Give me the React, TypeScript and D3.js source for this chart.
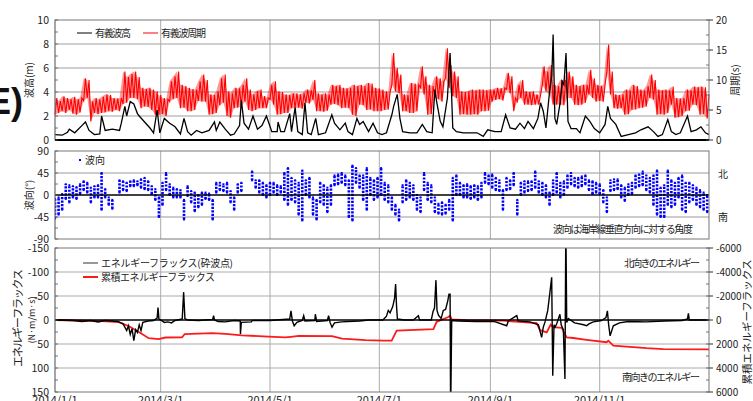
import React from 'react'
import * as d3 from 'd3'

const W = 753
const H = 401
const FONT = "'Noto Sans CJK JP', sans-serif"

// 有義波高 [day from 2014/1/1, m]
const waveHeight: [number, number][] = [
  [0, 0.45], [4, 0.4], [7, 0.65], [8, 0.9], [11, 0.6], [15, 1.2], [17, 1.5], [19, 0.8], [22, 0.45], [25, 0.5],
  [26, 2.0], [28, 0.8], [32, 0.9], [36, 0.8], [37, 1.4], [39, 2.8], [40, 2.0], [42, 3.2], [44, 3.0], [46, 2.2],
  [47, 2.0], [50, 1.5], [53, 1.0], [55, 0.6], [57, 2.5], [58.5, 0.6], [61, 1.8], [64, 1.4], [67, 1.1], [70, 0.5],
  [72, 1.8], [74, 0.7], [76, 0.4], [79, 0.8], [82, 0.6], [86, 0.8], [89, 1.5], [90, 0.8], [92, 1.5], [95, 0.9],
  [98, 0.4], [100, 0.5], [103, 1.2], [104, 3.3], [105.5, 1.4], [108, 0.9], [110.5, 2.0], [113, 0.9], [115.5, 1.2], [118, 2.0],
  [121, 0.7], [124, 0.7], [124.5, 1.5], [126, 0.7], [128, 0.7], [131, 2.2], [132, 0.7], [134, 2.7], [135.5, 0.7], [138, 0.45],
  [139.5, 3.1], [141, 0.6], [143, 0.45], [145.5, 1.8], [147, 0.45], [151, 0.6], [154.5, 2.1], [156, 1.4], [159, 0.85], [162, 1.4],
  [163.5, 0.7], [166, 0.45], [168.5, 1.8], [170, 1.3], [172, 1.55], [175, 0.7], [177.5, 1.4], [180, 0.6], [182.5, 0.45], [185, 0.6],
  [188, 2.1], [189, 2.8], [191, 3.8], [192.5, 1.8], [194, 0.7], [198, 0.6], [202, 0.6], [205, 1.3], [207.5, 0.7], [210.5, 0.6],
  [212, 4.2], [213, 3.2], [215, 1.55], [216.5, 1.1], [219, 3.5], [220.5, 7.25], [222, 1.0], [224, 0.7], [228, 0.6], [232, 0.6],
  [235.5, 0.6], [239, 0.3], [241.5, 0.85], [245.5, 0.7], [249, 0.7], [251.5, 2.1], [254, 1.0], [257, 0.9], [259.5, 1.4], [262, 0.95],
  [264, 1.55], [267, 0.95], [269.5, 1.8], [271, 3.1], [272.5, 2.4], [274, 1.0], [276, 4.0], [277.3, 5.4], [278, 8.8], [279, 1.8],
  [280, 1.3], [282, 3.2], [283, 4.9], [284, 4.6], [285.2, 7.25], [286.3, 1.55], [288, 0.95], [291, 0.95], [293, 0.6], [296, 2.0],
  [298.5, 1.55], [301, 0.95], [304, 0.6], [307, 1.3], [308.5, 2.8], [310, 1.8], [313, 1.3], [316, 0.3], [320, 0.45], [324, 0.6],
  [327, 0.85], [331, 1.1], [334, 0.7], [336.5, 0.3], [339, 0.45], [342, 1.7], [344, 0.7], [346.5, 0.45], [349, 0.6], [353, 2.0],
  [355, 0.7], [358, 0.85], [360.5, 1.1], [363, 0.6], [365, 0.45],
]

// 有義波周期: lower / upper edge of the band, one pair every 2 days (s)
const periodLow = [
  4.2, 4.5, 4.8, 4.5, 5.0, 4.4, 4.2, 4.6, 6.5, 7.0, 3.1, 4.5, 4.3, 4.5, 4.6, 4.8, 4.7, 5.0, 4.8, 6.0,
  6.2, 7.0, 7.0, 6.8, 5.3, 5.6, 5.5, 5.0, 4.2, 4.2, 4.3, 4.0, 6.4, 6.8, 7.0, 5.3, 5.4, 4.8, 4.8, 5.0,
  6.5, 6.4, 6.4, 4.2, 4.3, 4.5, 5.8, 6.2, 4.0, 3.7, 5.3, 5.4, 5.6, 6.4, 5.0, 4.8, 5.0, 5.3, 5.3, 5.3,
  6.8, 5.9, 4.2, 4.3, 4.5, 4.5, 5.3, 5.3, 5.4, 5.2, 6.2, 6.1, 6.7, 4.8, 4.8, 4.7, 4.9, 5.9, 6.0, 5.8,
  5.3, 5.4, 5.3, 4.2, 4.0, 5.9, 5.8, 5.0, 5.1, 4.8, 4.8, 4.8, 5.0, 5.1, 9.2, 8.1, 7.8, 4.8, 4.8, 4.5,
  4.5, 4.8, 8.7, 7.6, 4.2, 4.3, 7.0, 6.8, 6.4, 10.3, 8.7, 7.3, 7.0, 4.2, 4.3, 4.2, 4.2, 4.3, 4.2, 4.8,
  4.8, 4.9, 6.4, 6.7, 6.8, 6.6, 8.4, 7.8, 4.8, 6.4, 7.0, 5.9, 5.9, 5.8, 5.9, 5.9, 9.2, 8.1, 7.6, 5.9,
  5.9, 5.9, 5.8, 7.0, 7.0, 5.9, 5.8, 5.9, 6.2, 7.6, 7.0, 6.4, 6.5, 6.4, 11.4, 7.6, 5.3, 5.2, 5.3, 4.2,
  4.3, 5.0, 5.1, 5.3, 5.4, 5.6, 7.0, 6.7, 4.2, 4.3, 4.2, 4.5, 5.9, 3.7, 3.8, 4.0, 4.8, 4.9, 5.9, 5.8,
  4.2, 4.3, 3.6,
]
const periodHigh = [
  7.0, 6.5, 7.3, 7.0, 6.8, 7.2, 6.8, 7.0, 10.3, 10.0, 6.4, 7.0, 6.8, 7.2, 7.6, 7.5, 7.0, 6.9, 7.0, 11.4,
  10.5, 11.0, 11.4, 10.5, 8.7, 8.5, 8.7, 8.4, 8.1, 7.5, 7.0, 6.8, 9.8, 10.6, 11.4, 9.2, 9.0, 8.7, 8.5, 8.4,
  9.8, 10.9, 10.0, 7.6, 7.5, 8.1, 10.3, 10.9, 8.1, 7.8, 8.7, 8.6, 9.2, 10.3, 8.4, 7.6, 8.1, 8.4, 7.3, 7.0,
  9.2, 9.8, 8.1, 8.0, 7.6, 7.5, 7.8, 7.8, 7.6, 7.8, 8.4, 8.3, 10.0, 7.8, 7.6, 7.8, 7.6, 9.2, 9.0, 9.2,
  8.7, 8.6, 8.7, 9.2, 9.0, 9.2, 9.0, 9.5, 9.4, 8.7, 8.6, 8.4, 8.1, 8.0, 14.5, 12.0, 10.9, 7.6, 7.5, 9.5,
  9.4, 9.2, 12.3, 10.6, 9.2, 9.0, 10.6, 10.3, 9.8, 15.3, 12.5, 11.4, 10.6, 8.1, 8.0, 8.1, 8.4, 8.3, 8.4, 8.4,
  8.3, 8.4, 8.4, 8.7, 8.6, 8.7, 11.2, 10.6, 7.0, 9.2, 10.0, 8.1, 8.0, 8.1, 7.6, 7.5, 12.3, 11.4, 12.5, 9.2,
  9.0, 10.0, 10.0, 11.4, 10.6, 9.2, 9.0, 9.2, 9.2, 11.7, 10.3, 9.2, 9.0, 9.2, 15.9, 11.4, 7.6, 7.5, 7.6, 8.4,
  8.3, 9.2, 9.0, 8.4, 8.3, 9.0, 10.9, 10.0, 8.4, 8.3, 8.4, 8.3, 8.9, 7.0, 6.9, 7.0, 8.4, 8.3, 8.9, 8.8,
  8.9, 8.8, 7.6,
]

// 波向: lower / upper edge of the point cloud, every 2 days (deg), null = no data
const dirLow: (number | null)[] = [
  -48, -40, -30, -8, -15, -5, -8, 2, 10, 5, -15, -5, -5, -30, -5, -20, -28, null, 5, 10,
  8, 18, 18, 20, 15, 12, 10, 2, -10, -45, -20, 10, 0, -5, -5, -5, -50, -2, -15, -33,
  -25, -20, -8, -10, -50, 5, 10, 8, 5, -15, -30, 5, 8, null, null, 30, 15, 5, 0, -5,
  0, 5, 0, 5, -10, -20, -10, -15, -40, -52, 0, -5, -40, -50, -15, -20, -35, -20, 20, 22,
  25, 20, -45, -52, 25, 15, -10, -30, 0, -10, -5, 0, -10, -15, -30, -40, -52, -15, -10, -5,
  -10, -30, -35, 10, -10, -15, -35, -38, -40, -38, -30, -52, 0, 0, -5, -5, -8, -5, -10, -5,
  25, 22, 15, 10, 8, -30, 10, 12, 20, -40, 0, 5, 8, 10, 15, 5, 0, -5, -20, 0,
  5, -5, 0, 15, 22, 18, 15, 18, 22, 10, 2, 5, 2, -15, -35, 8, 10, 12, -5, -12,
  0, 2, 15, 18, 20, 10, 5, -20, -40, -45, -45, -20, -25, -20, -5, -30, -35, -15, -10, -20,
  -25, -30, -35,
]
const dirHigh: (number | null)[] = [
  -8, -5, 2, 22, 20, 18, 16, 22, 28, 25, 15, 18, 20, 45, 12, -5, -10, null, 30, 28,
  25, 28, 30, 28, 32, 35, 28, 18, 12, -5, 25, 45, 22, 15, 12, 10, -10, 18, 8, 5,
  0, 5, 5, 3, -10, 25, 25, 22, 25, 8, -5, 22, 25, null, null, 48, 30, 30, 25, 20,
  25, 25, 20, 18, 45, 55, 35, 30, 25, 50, 30, 35, -5, -10, 25, 20, 15, 20, 40, 42,
  45, 40, 30, 60, 55, 40, 40, 55, 35, 30, 35, 55, 25, 20, -5, -20, -30, 20, 30, 25,
  20, 0, -5, 45, 25, 20, -5, -18, -15, -20, -10, 35, 40, 25, 20, 22, 18, 20, 18, 25,
  45, 40, 42, 35, 30, 10, 35, 30, 45, -10, 25, 28, 28, 28, 48, 28, 25, 20, 5, 30,
  45, 25, 28, 40, 45, 35, 35, 38, 40, 30, 28, 25, 22, 10, -5, 30, 32, 32, 20, 15,
  22, 25, 40, 42, 48, 40, 35, 40, 50, 15, 20, 50, 30, 25, 35, 40, 25, 25, 20, 15,
  10, 5, 0,
]

// エネルギーフラックス(砕波点) [day, N·m/m·s] (negative = northward)
const flux: [number, number][] = [
  [0, 0], [10, 1], [15, 3], [20, 1], [24, 4], [28, 1], [35, 3], [38, 8], [40, 22], [41, 12],
  [42, 30], [43, 18], [44, 43], [45, 20], [46, 26], [47, 10], [48, 22], [49, 5], [52, 2], [55, 1],
  [57, -4], [57.5, -26], [58, -2], [59, 0], [61, 5], [63, 4], [65, 6], [67, 1], [71, -2], [71.8, -58],
  [72.5, -3], [74, 0], [80, 1], [88, -1], [88.5, -9], [89, 0], [91, 3], [95, 4], [100, 1], [103.4, 2],
  [103.5, 29], [104, 5], [109.6, 4], [110, 1], [120, 1], [131, -2], [131.7, -19], [132.5, 2], [133.5, 12], [135, 5],
  [138, 1], [138.8, -9], [139.5, 2], [145, 1], [145.3, -12], [146, 3], [152, 1], [152.7, -9], [153.5, 5], [154.6, 15],
  [156, 6], [160, 4], [170, 2], [175, 0], [183, 0], [185, -8], [186, -20], [187, -15], [188.5, -28], [189.5, -45],
  [190.1, -75], [190.6, -30], [191.1, -2], [195, 0], [200, 0], [202.8, -9], [203.5, 0], [210, 0], [211, -18], [211.8, -25],
  [212.6, -83], [213.2, -20], [214, -10], [215.5, -3], [216.7, -20], [218, -22], [219.2, -40], [219.9, -54], [220.5, -54], [220.8, 200],
  [221.4, 1], [225, 2], [235, 3], [245, 3], [252.1, 12], [253, 2], [257.7, -9], [258.5, 2], [265, 4], [269.8, 10],
  [271, 28], [271.6, 36], [272.5, 15], [273.5, 4], [275, -20], [276.3, -60], [277.2, -89], [277.8, 116], [278.5, 10], [279.1, 15],
  [280, 8], [281.8, -12], [282.5, 10], [283.7, 20], [284.6, 123], [285.1, -200], [285.6, 5], [286.5, -3], [290, 6], [295, 10],
  [296.7, 12], [298, 8], [300.4, 4], [305, 1], [307.5, -5], [308.3, -19], [309, 10], [309.8, 33], [311.6, 12], [315, 6],
  [320, 3], [330, 4], [340, 2], [350, 1], [353, -2], [353.5, -14], [354, 0], [360, 0], [365, 0],
]

// 累積エネルギーフラックス [day, value]
const fluxCum: [number, number][] = [
  [0, 0], [26.2, 100], [35.5, 170], [41.1, 500], [43.9, 750], [46.7, 1000], [49.5, 1250], [52.3, 1520], [57.9, 1600], [61.6, 1460],
  [70.9, 1450], [72.4, 1170], [87.6, 1100], [95.1, 1150], [104.4, 1280], [119.2, 1380], [128.5, 1450], [131.7, 1400], [136, 1320], [154.6, 1340],
  [160.2, 1550], [173.2, 1680], [183.4, 1720], [187.9, 1720], [190.7, 890], [211.2, 760], [213, 150], [219.5, -250], [220.5, -360], [221.4, -50],
  [229.8, 20], [250.2, 60], [268.8, 250], [270.7, 850], [274.4, 1030], [276.6, 400], [278.1, 600], [282.8, 650], [284.1, 1030], [285.6, 1450],
  [289.3, 1500], [296.7, 1650], [307.9, 1850], [308.8, 1720], [311.6, 2140], [330.2, 2350], [339.5, 2420], [365, 2440],
]

const heightTicks = [0, 2, 4, 6, 8, 10]
const periodTicks = [0, 5, 10, 15, 20]
const dirTicks = [-90, -45, 0, 45, 90]
const fluxTicks = [-150, -100, -50, 0, 50, 100, 150]
const cumTicks = [-6000, -4000, -2000, 0, 2000, 4000, 6000]
const dateTicks = ['2014/1/1', '2014/3/1', '2014/5/1', '2014/7/1', '2014/9/1', '2014/11/1']

const L = 55
const R = 709
const P1 = { top: 20, bottom: 140 }
const P2 = { top: 151, bottom: 239 }
const P3 = { top: 248, bottom: 392 }

const fmt = (v: number) => (v < 0 ? '-' + Math.abs(v) : String(v))
const dayOf = (s: string) => {
  const [y, m, d] = s.split('/').map(Number)
  return d3.timeDay.count(new Date(2014, 0, 1), new Date(y, m - 1, d))
}

export default function App() {
  const x = d3.scaleLinear().domain([0, 365]).range([L, R])
  const yH = d3.scaleLinear().domain([0, 10]).range([P1.bottom, P1.top])
  const yT = d3.scaleLinear().domain([0, 20]).range([P1.bottom, P1.top])
  const yD = d3.scaleLinear().domain([-90, 90]).range([P2.bottom, P2.top])
  const yF = d3.scaleLinear().domain([-150, 150]).range([P3.top, P3.bottom])
  const yC = d3.scaleLinear().domain([-6000, 6000]).range([P3.top, P3.bottom])

  const periodPts: [number, number][] = periodLow.flatMap((lo, i) => [
    [2 * i, lo] as [number, number],
    [Math.min(2 * i + 1, 365), periodHigh[i]] as [number, number],
  ])
  const periodBand = d3
    .area<number>()
    .x((_, i) => x(2 * i))
    .y0(d => yT(d))
    .y1((_, i) => yT(periodHigh[i]))

  const line = (ys: d3.ScaleLinear<number, number>) =>
    d3.line<[number, number]>().x(d => x(d[0])).y(d => ys(d[1]))

  const vGrid = dateTicks.map(dayOf)

  // left axis ticks and labels, with minor ticks inside
  const leftAxis = (ticks: number[], ys: d3.ScaleLinear<number, number>, minor: number) => {
    const [a, b] = ys.domain()
    const minors = d3.range(Math.min(a, b), Math.max(a, b) + 0.001, minor)
    return (
      <g>
        {minors.map((v, i) => (
          <line key={'m' + i} x1={L} x2={L + 3} y1={ys(v)} y2={ys(v)} stroke="#555" strokeWidth={0.8} />
        ))}
        {ticks.map(v => (
          <text key={v} x={49} y={ys(v) + 4} textAnchor="end" fontSize={10.5} fill="#222">{fmt(v)}</text>
        ))}
      </g>
    )
  }
  const rightAxis = (ticks: number[], ys: d3.ScaleLinear<number, number>, minor: number) => {
    const [a, b] = ys.domain()
    const minors = d3.range(Math.min(a, b), Math.max(a, b) + 0.001, minor)
    return (
      <g>
        {minors.map((v, i) => (
          <line key={'m' + i} x1={R - 3} x2={R} y1={ys(v)} y2={ys(v)} stroke="#555" strokeWidth={0.8} />
        ))}
        {ticks.map(v => (
          <g key={v}>
            <line x1={R} x2={R + 4} y1={ys(v)} y2={ys(v)} stroke="#333" />
            <text x={716} y={ys(v) + 4} fontSize={10} fill="#222">{fmt(v)}</text>
          </g>
        ))}
      </g>
    )
  }

  const frame = (p: { top: number; bottom: number }) => (
    <rect x={L} y={p.top} width={R - L} height={p.bottom - p.top} fill="none" stroke="#777" strokeWidth={1} />
  )
  const vLines = (p: { top: number; bottom: number }) =>
    vGrid.map(d => <line key={d} x1={x(d)} x2={x(d)} y1={p.top} y2={p.bottom} stroke="#aaa" strokeWidth={1} />)

  return (
    <svg width={W} height={H} style={{ position: 'absolute', left: 0, top: 0, background: '#fff' }} fontFamily={FONT}>
      <defs>
        <clipPath id="c3"><rect x={L} y={P3.top} width={R - L} height={P3.bottom - P3.top} /></clipPath>
        <clipPath id="c2"><rect x={L} y={P2.top} width={R - L} height={P2.bottom - P2.top} /></clipPath>
      </defs>
      <text x={-13} y={114} fontSize={36} fontWeight="bold" fontFamily="'Liberation Sans', Arial, sans-serif" fill="#111">E)</text>

      {/* panel 1: wave height / period */}
      {heightTicks.slice(1, -1).map(v => (
        <line key={v} x1={L} x2={R} y1={yH(v)} y2={yH(v)} stroke="#cfcfcf" strokeWidth={2} />
      ))}
      {vLines(P1)}
      <path d={periodBand(periodLow) || ''} fill="#ff0000" fillOpacity={0.4} stroke="none" />
      <path d={line(yT)(periodPts) || ''} fill="none" stroke="#ff0000" strokeWidth={1.1} />
      <path d={line(yH)(waveHeight) || ''} fill="none" stroke="#000" strokeWidth={1.3} />
      {frame(P1)}
      <line x1={L} x2={R} y1={P1.bottom} y2={P1.bottom} stroke="#000" strokeWidth={2} />
      {leftAxis(heightTicks, yH, 1)}
      {rightAxis(periodTicks, yT, 2.5)}
      <line x1={77} x2={92} y1={33} y2={33} stroke="#000" />
      <text x={95} y={37} fontSize={10} fill="#222" textLength={36}>有義波高</text>
      <line x1={143} x2={158} y1={33} y2={33} stroke="#ff0000" />
      <text x={161} y={37} fontSize={10} fill="#222" textLength={45}>有義波周期</text>
      <text transform={`translate(33,${(P1.top + P1.bottom) / 2}) rotate(-90)`} textAnchor="middle" fontSize={10} fill="#222">波高(m)</text>
      <text transform={`translate(739,${(P1.top + P1.bottom) / 2}) rotate(-90)`} textAnchor="middle" fontSize={10} fill="#222">周期(s)</text>

      {/* panel 2: wave direction */}
      {[45, -45].map(v => (
        <line key={v} x1={L} x2={R} y1={yD(v)} y2={yD(v)} stroke="#999" strokeWidth={1} />
      ))}
      {vLines(P2)}
      <g clipPath="url(#c2)">
        {dirLow.map((lo, i) => {
          const hi = dirHigh[i]
          if (lo == null || hi == null) return null
          const cx = x(2 * i)
          return (
            <g key={i}>
              <line x1={cx} x2={cx} y1={yD(lo)} y2={yD(hi)} stroke="#0000ff" strokeWidth={2.6} strokeDasharray="2.2 1.3" />
              <rect x={cx - 1} y={yD(lo) - 1} width={2} height={2} fill="#0000ff" />
              <rect x={cx - 1} y={yD(hi) - 1} width={2} height={2} fill="#0000ff" />
            </g>
          )
        })}
      </g>
      <line x1={L} x2={R} y1={yD(0)} y2={yD(0)} stroke="#000" strokeWidth={1.5} />
      {frame(P2)}
      {leftAxis(dirTicks, yD, 22.5)}
      <rect x={79} y={159} width={2} height={2} fill="#0000ff" />
      <text x={85} y={164} fontSize={10} fill="#222">波向</text>
      <text x={693} y={233} textAnchor="end" fontSize={10} fill="#222" textLength={140}>波向は海岸線垂直方向に対する角度</text>
      <text x={718} y={178} fontSize={10} fill="#222">北</text>
      <text x={718} y={221} fontSize={10} fill="#222">南</text>
      <text transform={`translate(33,${(P2.top + P2.bottom) / 2}) rotate(-90)`} textAnchor="middle" fontSize={10} fill="#222">波向(°)</text>

      {/* panel 3: energy flux */}
      {[-100, -50, 50, 100].map(v => (
        <line key={v} x1={L} x2={R} y1={yF(v)} y2={yF(v)} stroke="#aaa" strokeWidth={1} />
      ))}
      {vLines(P3)}
      <g clipPath="url(#c3)">
        <path d={line(yC)(fluxCum) || ''} fill="none" stroke="#ff1a1a" strokeWidth={1.8} />
        <path d={line(yF)(flux) || ''} fill="none" stroke="#000" strokeWidth={1.4} />
      </g>
      <line x1={L} x2={R} y1={yF(0)} y2={yF(0)} stroke="#000" strokeWidth={1.5} />
      {frame(P3)}
      {leftAxis(fluxTicks, yF, 25)}
      {rightAxis(cumTicks, yC, 1000)}
      <line x1={83} x2={98} y1={263} y2={263} stroke="#333" />
      <text x={101} y={267} fontSize={10} fill="#222" textLength={132}>エネルギーフラックス(砕波点)</text>
      <line x1={83} x2={98} y1={277} y2={277} stroke="#ff1a1a" strokeWidth={2} />
      <text x={101} y={281} fontSize={10} fill="#222" textLength={114}>累積エネルギーフラックス</text>
      <text x={700} y={267} textAnchor="end" fontSize={10} fill="#222" textLength={76}>北向きのエネルギー</text>
      <text x={700} y={381} textAnchor="end" fontSize={10} fill="#222" textLength={78}>南向きのエネルギー</text>
      <text transform={`translate(22,318) rotate(-90)`} textAnchor="middle" fontSize={11} fill="#222" textLength={98}>エネルギーフラックス</text>
      <text transform={`translate(35,320) rotate(-90)`} textAnchor="middle" fontSize={9} fill="#222">(N·m/m·s)</text>
      <text transform={`translate(751,322) rotate(-90)`} textAnchor="middle" fontSize={10.5} fill="#222" textLength={125}>累積エネルギーフラックス</text>

      {dateTicks.map(t => (
        <text key={t} x={x(dayOf(t))} y={404} textAnchor="middle" fontSize={11} fill="#222">{t}</text>
      ))}
    </svg>
  )
}
